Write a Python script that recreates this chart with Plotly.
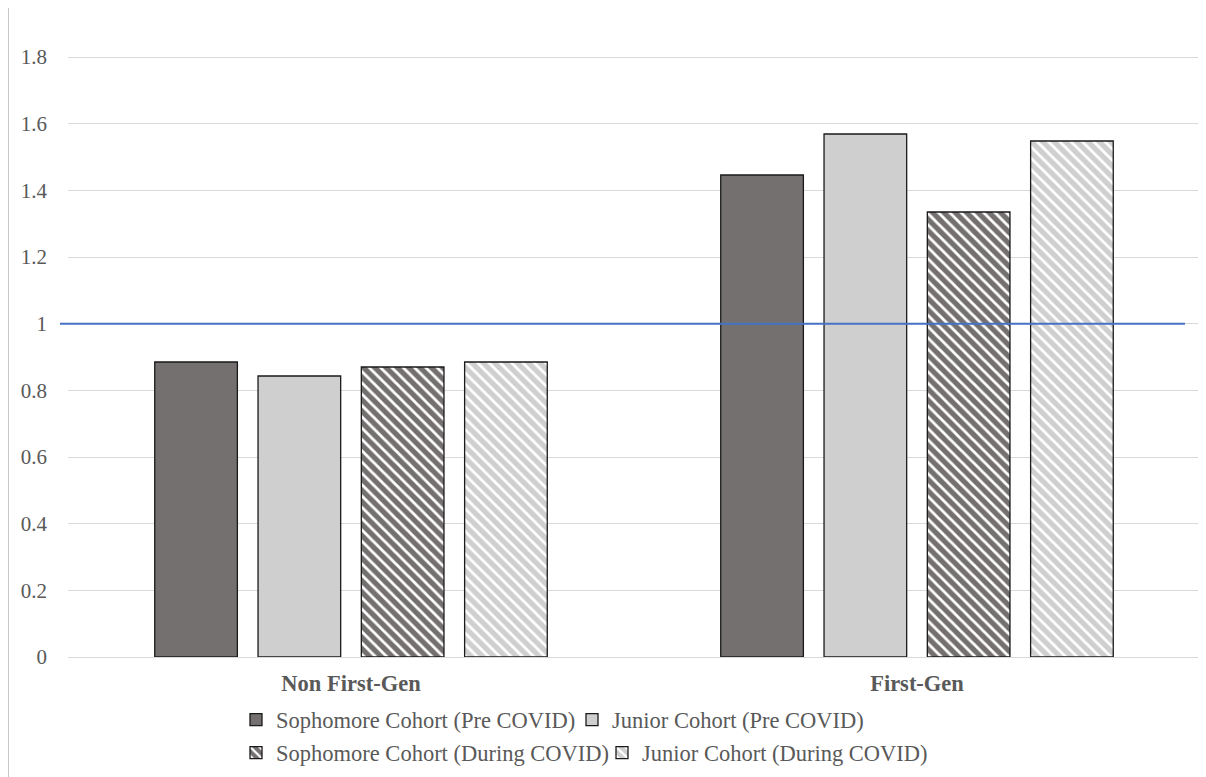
import plotly.graph_objects as go

categories = ["Non First-Gen", "First-Gen"]
series_names = [
    "Sophomore Cohort (Pre COVID)",
    "Junior Cohort (Pre COVID)",
    "Sophomore Cohort (During COVID)",
    "Junior Cohort (During COVID)",
]
soph_pre = [0.885, 1.446]
junior_pre = [0.843, 1.569]
soph_during = [0.870, 1.335]
junior_during = [0.885, 1.548]
reference_value = 1.0
y_max = 1.8
y_ticks = [0, 0.2, 0.4, 0.6, 0.8, 1, 1.2, 1.4, 1.6, 1.8]
y_tick_labels = ["0", "0.2", "0.4", "0.6", "0.8", "1", "1.2", "1.4", "1.6", "1.8"]

DARK = "#757070"
LIGHT = "#d0cfd0"
SERIF = "Liberation Serif"
TXT = "#595959"

all_values = [soph_pre, junior_pre, soph_during, junior_during]
fills = [DARK, LIGHT, DARK, LIGHT]
hatched = [False, False, True, True]
legends = ["legend", "legend", "legend2", "legend2"]

fig = go.Figure()
for name, vals, col, h, lg in zip(series_names, all_values, fills, hatched, legends):
    marker = dict(color=col, line=dict(color="#1a1a1a", width=1.3))
    if h:
        marker["pattern"] = dict(shape="\\", fgcolor="white", bgcolor=col,
                                 size=8, solidity=0.35, fillmode="replace")
    fig.add_trace(go.Bar(x=categories, y=vals, name=name, marker=marker, legend=lg))

# page body has an 8px margin; figure coords = page coords - 8
OFF = 8
PX_PER_UNIT = 600 / 1.8
y_top = y_max + 0.006          # tiny headroom so the 1.8 gridline is drawn
extra = (y_top - y_max) * PX_PER_UNIT
W, H = 1206 - OFF, 777 - OFF
L, R, T, B = 68 - OFF, 6, 57 - OFF - extra, 120
pw, ph = W - L - R, H - T - B

def px_to_paper_x(page_x):
    return (page_x - OFF - L) / pw

def px_to_paper_y(page_y):
    return (H - B - (page_y - OFF)) / ph

fig.add_shape(type="line", xref="paper", yref="paper",
              x0=px_to_paper_x(60), x1=px_to_paper_x(1185),
              y0=reference_value / y_top, y1=reference_value / y_top,
              line=dict(color="#4472c4", width=2))
fig.add_shape(type="line", xref="paper", yref="paper",
              x0=px_to_paper_x(8.5), x1=px_to_paper_x(8.5),
              y0=px_to_paper_y(777), y1=px_to_paper_y(8),
              line=dict(color="#c8c8c8", width=1))

legend_common = dict(orientation="h", font=dict(family=SERIF, size=22.5, color=TXT),
                     bgcolor="rgba(0,0,0,0)", xanchor="left", yanchor="middle",
                     itemwidth=30, tracegroupgap=0, traceorder="normal",
                     entrywidthmode="pixels")
fig.update_layout(
    width=W, height=H,
    margin=dict(l=L, r=R, t=T, b=B, autoexpand=False),
    plot_bgcolor="white", paper_bgcolor="white",
    barmode="group", bargap=0.27, bargroupgap=0.2,
    font=dict(family=SERIF, color=TXT),
    showlegend=True,
    legend=dict(x=px_to_paper_x(236), y=px_to_paper_y(720), entrywidth=291, **legend_common),
    legend2=dict(x=px_to_paper_x(236), y=px_to_paper_y(753), entrywidth=321, **legend_common),
    xaxis=dict(showgrid=False, ticks="", showline=False, automargin=False,
               ticklabelstandoff=10,
               tickfont=dict(family=SERIF, size=22.5, color=TXT, weight="bold")),
    yaxis=dict(range=[0, y_top], tickvals=y_ticks, ticktext=y_tick_labels,
               showgrid=True, gridcolor="#d9d9d9", gridwidth=1, automargin=False,
               zeroline=True, zerolinecolor="#d9d9d9", zerolinewidth=1,
               showline=False, ticks="", ticklabelstandoff=20,
               tickfont=dict(family=SERIF, size=21, color=TXT)),
)

fig.write_html("out.html")
